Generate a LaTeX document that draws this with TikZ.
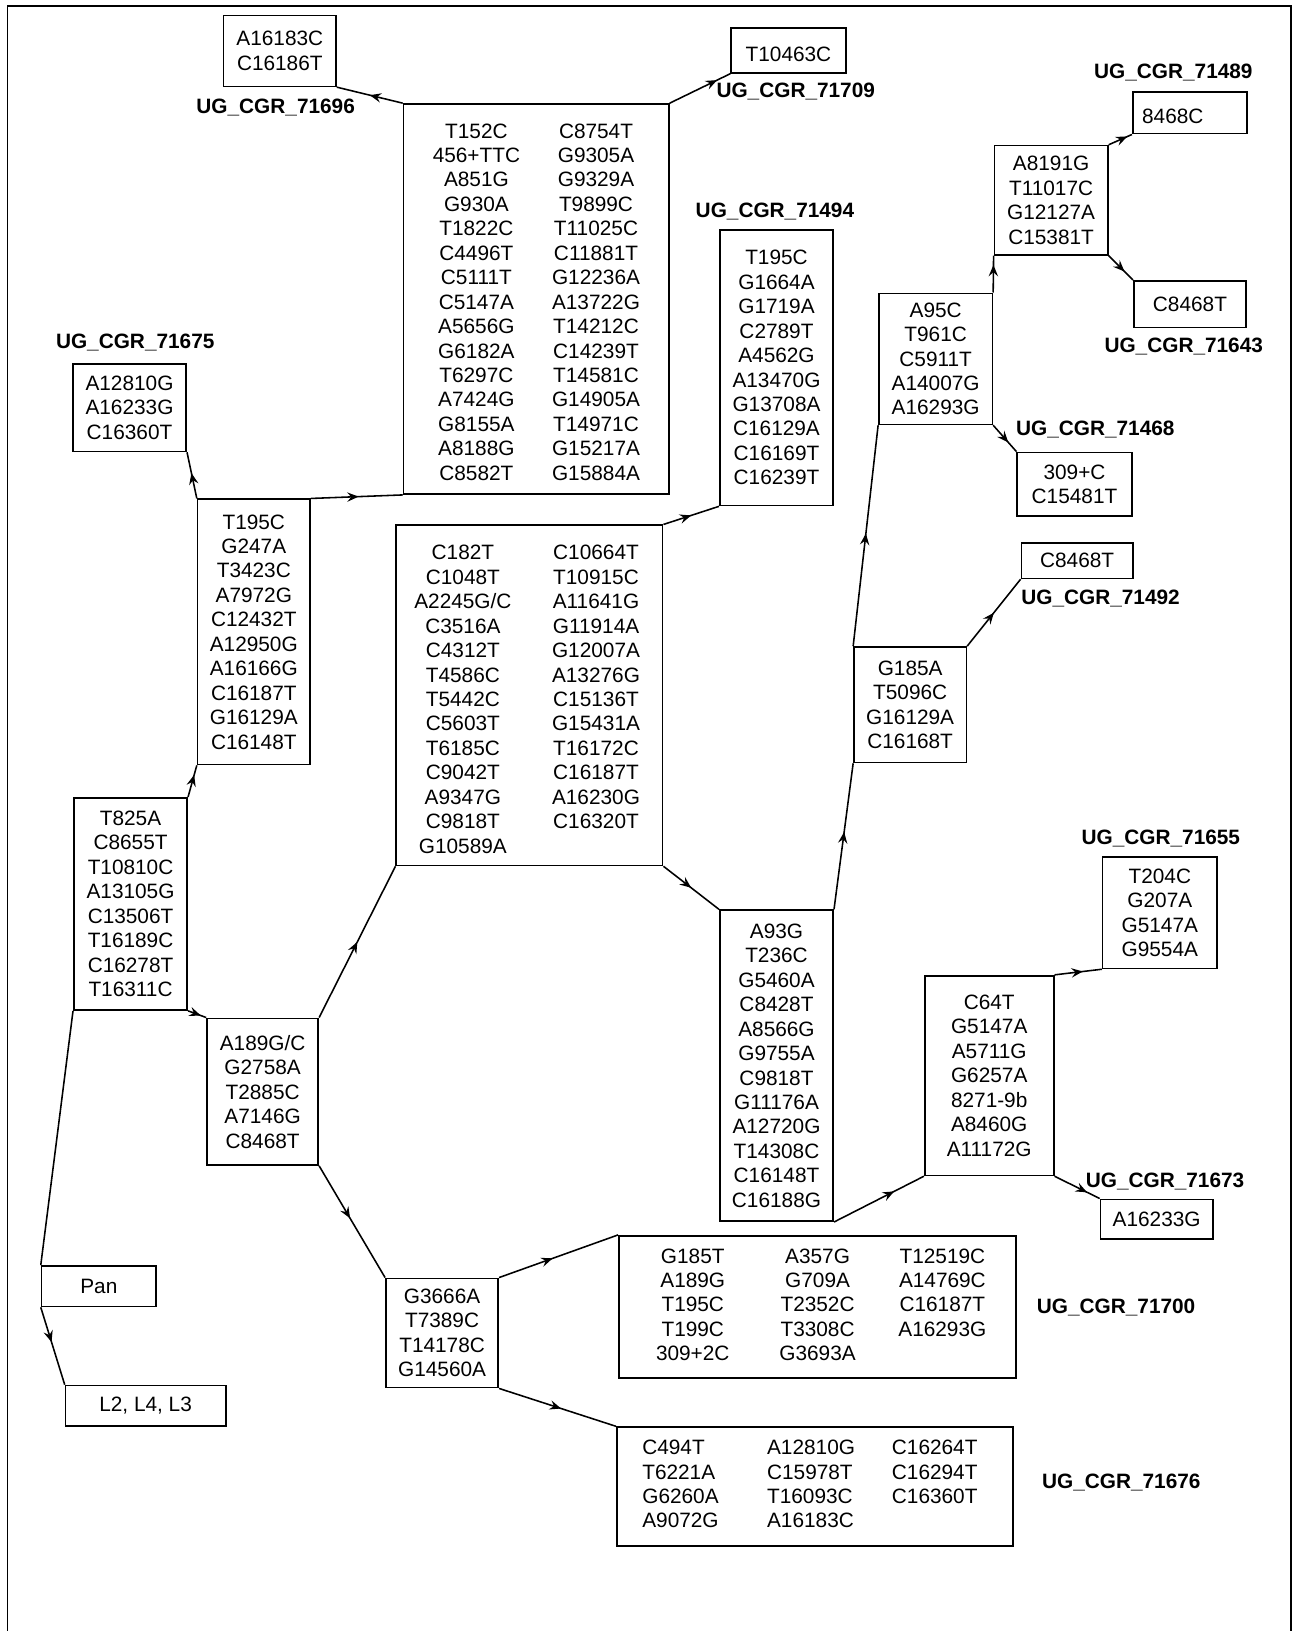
\documentclass[tikz,border=0pt]{standalone}
\usepackage{fontspec}
\setmainfont{Liberation Sans}
\usepackage{array}
\usetikzlibrary{arrows.meta,decorations.markings}
\newcolumntype{C}[1]{>{\centering\arraybackslash}p{#1}}
\newcolumntype{L}[1]{>{\raggedright\arraybackslash}p{#1}}
\begin{document}
\begin{tikzpicture}[x=1pt,y=-1pt,
  box/.style={draw, line width=1.6pt, rectangle, inner sep=0pt, align=center, font=\fontsize{20}{23.5}\selectfont},
  lbl/.style={font=\fontsize{20}{23.5}\selectfont\bfseries, inner sep=0pt, anchor=base},
  conn/.style={line width=1.5pt},
  arr/.style={conn, postaction={decorate}, decoration={markings, mark=at position #1 with {\arrow{Stealth[length=11pt,width=9pt,inset=4pt]}}}},
]
\useasboundingbox (0,0) rectangle (1248,1568);
\fill[white] (0,0) rectangle (1248,1568);
\draw[line width=1.5pt] (7,1580) -- (7,6) -- (1241,6) -- (1241,1580);

% boxes
\node[box, minimum width=108pt, minimum height=68pt] (b16183) at (269,49) {A16183C\\C16186T};
\node[box, minimum width=255pt, minimum height=375pt] (big1) at (515.5,287.5) {\vbox{\kern10pt\hbox{%
\begin{tabular}{@{}C{115pt}@{}C{115pt}@{}}
T152C & C8754T\\
456+TTC & G9305A\\
A851G & G9329A\\
G930A & T9899C\\
T1822C & T11025C\\
C4496T & C11881T\\
C5111T & G12236A\\
C5147A & A13722G\\
A5656G & T14212C\\
G6182A & C14239T\\
T6297C & T14581C\\
A7424G & G14905A\\
G8155A & T14971C\\
A8188G & G15217A\\
C8582T & G15884A
\end{tabular}}}};
\node[box, minimum width=110pt, minimum height=43pt, text height=22.3pt] (b10463) at (758,48.5) {T10463C};
\node[box, minimum width=110pt, minimum height=40pt, text width=94pt, align=left, text height=20.3pt] (b8468C) at (1144,108.5) {\hspace*{1pt}8468C};
\node[box, minimum width=109pt, minimum height=105pt] (b8191) at (1010.5,192.5) {A8191G\\T11017C\\G12127A\\C15381T};
\node[box, minimum width=108pt, minimum height=45pt] (b71643) at (1144,292.5) {C8468T};
\node[box, minimum width=109pt, minimum height=265pt] (b71494) at (746.5,353.5) {T195C\\G1664A\\G1719A\\C2789T\\A4562G\\A13470G\\G13708A\\C16129A\\C16169T\\C16239T};
\node[box, minimum width=109pt, minimum height=84pt] (b12810) at (124.5,392) {A12810G\\A16233G\\C16360T};
\node[box, minimum width=109pt, minimum height=126pt] (bA95C) at (899.5,345) {A95C\\T961C\\C5911T\\A14007G\\A16293G};
\node[box, minimum width=110pt, minimum height=61pt] (b309) at (1033,465.5) {309+C\\C15481T};
\node[box, minimum width=108pt, minimum height=255pt] (bT195C) at (244,607.5) {T195C\\G247A\\T3423C\\A7972G\\C12432T\\A12950G\\A16166G\\C16187T\\G16129A\\C16148T};
\node[box, minimum width=107pt, minimum height=34pt] (b71492) at (1035.5,539) {C8468T};
\node[box, minimum width=254pt, minimum height=327pt] (big2) at (509,668.5) {\vbox{\kern12pt\hbox{%
\begin{tabular}{@{}C{128pt}@{}C{128pt}@{}}
C182T & C10664T\\
C1048T & T10915C\\
A2245G/C & A11641G\\
C3516A & G11914A\\
C4312T & G12007A\\
T4586C & A13276G\\
T5442C & C15136T\\
C5603T & G15431A\\
T6185C & T16172C\\
C9042T & C16187T\\
A9347G & A16230G\\
C9818T & C16320T\\
G10589A &
\end{tabular}}}};
\node[box, minimum width=108pt, minimum height=111pt] (bG185A) at (875,677.5) {G185A\\T5096C\\G16129A\\C16168T};
\node[box, minimum width=109pt, minimum height=204pt] (bT825A) at (125.5,869) {T825A\\C8655T\\T10810C\\A13105G\\C13506T\\T16189C\\C16278T\\T16311C};
\node[box, minimum width=107pt, minimum height=141pt] (bA189) at (252.5,1049.5) {A189G/C\\G2758A\\T2885C\\A7146G\\C8468T};
\node[box, minimum width=110pt, minimum height=107pt] (bT204C) at (1115,877.5) {T204C\\G207A\\G5147A\\G9554A};
\node[box, minimum width=109pt, minimum height=299pt] (bA93G) at (746.5,1024.5) {A93G\\T236C\\G5460A\\C8428T\\A8566G\\G9755A\\C9818T\\G11176A\\A12720G\\T14308C\\C16148T\\C16188G};
\node[box, minimum width=124pt, minimum height=192pt] (bC64T) at (951,1034) {C64T\\G5147A\\A5711G\\G6257A\\8271-9b\\A8460G\\A11172G};
\node[box, minimum width=108pt, minimum height=38pt] (bA16233G) at (1112,1172) {A16233G};
\node[box, minimum width=110pt, minimum height=39pt] (bPan) at (95,1236.5) {Pan};
\node[box, minimum width=108pt, minimum height=105pt] (bG3666) at (425,1281.5) {G3666A\\T7389C\\T14178C\\G14560A};
\node[box, minimum width=382pt, minimum height=137pt] (b71700) at (786,1256.5) {%
\begin{tabular}{@{}C{120pt}@{}C{120pt}@{}C{120pt}@{}}
G185T & A357G & T12519C\\
A189G & G709A & A14769C\\
T195C & T2352C & C16187T\\
T199C & T3308C & A16293G\\
309+2C & G3693A &
\end{tabular}};
\node[box, minimum width=154pt, minimum height=39pt] (bL2) at (140,1351.5) {L2, L4, L3};
\node[box, minimum width=381pt, minimum height=114pt] (b71676) at (783.5,1429) {%
\begin{tabular}{@{}L{120pt}@{}L{120pt}@{}L{92pt}@{}}
C494T & A12810G & C16264T\\
T6221A & C15978T & C16294T\\
G6260A & T16093C & C16360T\\
A9072G & A16183C &
\end{tabular}};

% labels
\node[lbl] (l71696) at (265,109) {UG\_CGR\_71696};
\node[lbl] (l71709) at (765,94) {UG\_CGR\_71709};
\node[lbl] (l71489) at (1128,75) {UG\_CGR\_71489};
\node[lbl] (l71643) at (1138,339) {UG\_CGR\_71643};
\node[lbl] (l71494) at (745,209) {UG\_CGR\_71494};
\node[lbl] (l71675) at (130,335) {UG\_CGR\_71675};
\node[lbl] (l71468) at (1053,419) {UG\_CGR\_71468};
\node[lbl] (l71492) at (1058,581) {UG\_CGR\_71492};
\node[lbl] (l71655) at (1116,812) {UG\_CGR\_71655};
\node[lbl] (l71673) at (1120,1142) {UG\_CGR\_71673};
\node[lbl] (l71700) at (1073,1263) {UG\_CGR\_71700};
\node[lbl] (l71676) at (1078,1431) {UG\_CGR\_71676};

% connectors
\draw[arr=0.5] (big1.north west) -- (b16183.south east);
\draw[arr=0.78] (big1.north east) -- (b10463.south west);
\draw[arr=0.8] (b8191.north east) -- (b8468C.south west);
\draw[arr=0.65] (b8191.south east) -- (b71643.north west);
\draw[arr=0.75] (bA95C.north east) -- (b8191.south west);
\draw[arr=0.65] (bA95C.south east) -- (b309.north west);
\draw[arr=0.51] (bG185A.north west) -- (bA95C.south west);
\draw[arr=0.5] (bG185A.north east) -- (b71492.south west);
\draw[arr=0.53] (bA93G.north east) -- (bG185A.south west);
\draw[arr=0.5] (big2.south east) -- (bA93G.north west);
\draw[arr=0.5] (big2.north east) -- (b71494.south west);
\draw[arr=0.52] (bT195C.north east) -- (big1.south west);
\draw[arr=0.55] (bT195C.north west) -- (b12810.south east);
\draw[arr=0.7] (bT825A.north east) -- (bT195C.south west);
\draw[arr=0.7] (bT825A.south east) -- (bA189.north west);
\draw[arr=0.5] (bA189.north east) -- (big2.south west);
\draw[arr=0.47] (bA189.south east) -- (bG3666.north west);
\draw[arr=0.45] (bG3666.north east) -- (b71700.north west);
\draw[arr=0.53] (bG3666.south east) -- (b71676.north west);
\draw[arr=0.67] (bA93G.south east) -- (bC64T.south west);
\draw[arr=0.6] (bC64T.north east) -- (bT204C.south west);
\draw[arr=0.72] (bC64T.south east) -- (bA16233G.north west);
\draw[conn] (bT825A.south west) -- (bPan.north west);
\draw[arr=0.45] (bPan.south west) -- (bL2.north west);
\end{tikzpicture}
\end{document}
